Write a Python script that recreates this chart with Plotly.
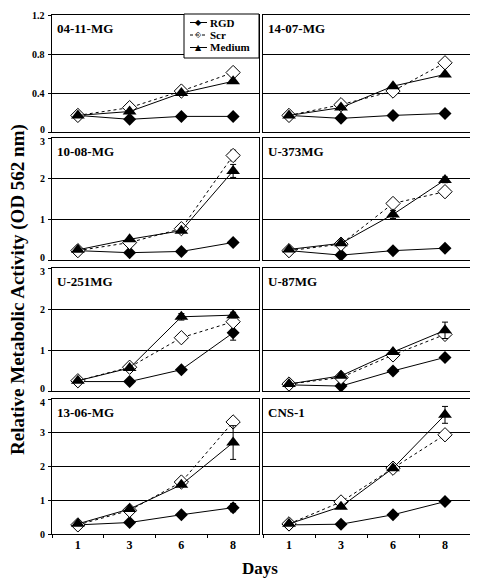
import plotly.graph_objects as go

W, H = 478, 579
OFF = 8  # page body margin offset


def px(x):
    return (x - OFF) / W


def py(y):
    return 1 - (y - OFF) / H


days = ["1", "3", "6", "8"]
panels = ["04-11-MG", "14-07-MG", "10-08-MG", "U-373MG",
          "U-251MG", "U-87MG", "13-06-MG", "CNS-1"]

rgd_04_11 = [0.17, 0.13, 0.16, 0.16]
rgd_14_07 = [0.17, 0.14, 0.17, 0.19]
rgd_10_08 = [0.23, 0.18, 0.21, 0.43]
rgd_u373 = [0.23, 0.12, 0.23, 0.29]
rgd_u251 = [0.23, 0.23, 0.52, 1.42]
rgd_u87 = [0.15, 0.12, 0.49, 0.82]
rgd_13_06 = [0.27, 0.34, 0.57, 0.78]
rgd_cns1 = [0.27, 0.29, 0.57, 0.96]

scr_04_11 = [0.17, 0.25, 0.42, 0.61]
scr_14_07 = [0.17, 0.28, 0.42, 0.71]
scr_10_08 = [0.23, 0.43, 0.77, 2.57]
scr_u373 = [0.23, 0.39, 1.39, 1.68]
scr_u251 = [0.25, 0.58, 1.30, 1.69]
scr_u87 = [0.17, 0.33, 0.88, 1.38]
scr_13_06 = [0.27, 0.70, 1.54, 3.32]
scr_cns1 = [0.30, 0.95, 1.95, 2.94]

med_04_11 = [0.17, 0.21, 0.40, 0.52]
med_14_07 = [0.17, 0.25, 0.47, 0.59]
med_10_08 = [0.25, 0.51, 0.72, 2.19]
med_u373 = [0.26, 0.41, 1.12, 1.97]
med_u251 = [0.25, 0.56, 1.81, 1.85]
med_u87 = [0.17, 0.37, 0.95, 1.48]
med_13_06 = [0.30, 0.74, 1.46, 2.71]
med_cns1 = [0.30, 0.81, 1.95, 3.53]

rgd_err = [[0, 0, 0, 0], [0, 0, 0, 0], [0, 0, 0, 0.04], [0, 0, 0, 0],
           [0, 0, 0, 0.18], [0, 0, 0, 0], [0, 0, 0, 0.12], [0, 0, 0, 0.05]]
scr_err = [[0, 0, 0, 0], [0, 0, 0, 0], [0, 0, 0, 0.13], [0, 0, 0, 0],
           [0, 0, 0, 0.05], [0, 0, 0, 0], [0, 0, 0, 0], [0, 0, 0, 0]]
med_err = [[0, 0, 0, 0], [0, 0, 0, 0], [0, 0, 0, 0.16], [0, 0, 0.1, 0.07],
           [0, 0, 0.08, 0.07], [0, 0, 0, 0.2], [0, 0, 0, 0.5], [0, 0, 0, 0.25]]

rgd = [rgd_04_11, rgd_14_07, rgd_10_08, rgd_u373, rgd_u251, rgd_u87, rgd_13_06, rgd_cns1]
scr = [scr_04_11, scr_14_07, scr_10_08, scr_u373, scr_u251, scr_u87, scr_13_06, scr_cns1]
med = [med_04_11, med_14_07, med_10_08, med_u373, med_u251, med_u87, med_13_06, med_cns1]

row_ymax = [1.2, 3, 3, 4]
row_tickvals = [[0, 0.4, 0.8, 1.2], [0, 1, 2, 3], [0, 1, 2, 3], [0, 1, 2, 3, 4]]
row_ticktext = [["0", "0.4", "0.8", "1.2"], ["0", "1", "2", "3"], ["0", "1", "2", "3"], ["0", "1", "2", "3", "4"]]

series_names = ["RGD", "Scr", "Medium"]
legend_glyphs = ["\u25c6", "\u25c7", "\u25b2"]

# pixel geometry (page pixels)
col_x = [(52, 259), (263, 471)]
row_y = [(15, 132), (138, 260), (268, 391), (399, 534)]

FONT = "Liberation Serif"
fig = go.Figure()


def styles(k, msize):
    if k == 0:
        return dict(line=dict(color="black", width=1),
                    marker=dict(symbol="diamond", size=msize, color="black"))
    if k == 1:
        return dict(line=dict(color="black", width=1, dash="dot"),
                    marker=dict(symbol="diamond", size=msize + 1, color="white",
                                line=dict(color="black", width=1)))
    return dict(line=dict(color="black", width=1),
                marker=dict(symbol="triangle-up", size=msize + 2, color="black"))


for i, name in enumerate(panels):
    r, c = divmod(i, 2)
    n = i + 1
    xa = "x" if n == 1 else f"x{n}"
    ya = "y" if n == 1 else f"y{n}"
    for k, (vals, errs) in enumerate([(rgd[i], rgd_err[i]), (scr[i], scr_err[i]), (med[i], med_err[i])]):
        fig.add_trace(go.Scatter(
            x=days, y=vals, name=series_names[k], xaxis=xa, yaxis=ya, mode="lines+markers",
            error_y=dict(type="data", array=errs, color="black", thickness=1, width=3),
            showlegend=False, **styles(k, 10)))

    x0, x1 = col_x[c]
    y0, y1 = row_y[r]
    xkey = "xaxis" if n == 1 else f"xaxis{n}"
    ykey = "yaxis" if n == 1 else f"yaxis{n}"
    fig.layout[xkey] = dict(
        domain=[px(x0), px(x1)], anchor=ya, type="category",
        categoryorder="array", categoryarray=days, range=[-0.5, 3.5],
        showgrid=False, showline=True, linecolor="black", linewidth=1, mirror=True,
        ticks="outside" if r == 3 else "", tickson="boundaries", ticklen=3, tickcolor="black",
        showticklabels=(r == 3), zeroline=False,
        tickfont=dict(family=FONT, size=12, color="black", weight="bold"))
    fig.layout[ykey] = dict(
        domain=[py(y1), py(y0)], anchor=xa, range=[0, row_ymax[r]],
        tickvals=row_tickvals[r],
        showgrid=True, gridcolor="black", gridwidth=1,
        showline=True, linecolor="black", linewidth=1, mirror=True,
        ticks="outside" if c == 0 else "", ticklen=3, tickcolor="black",
        showticklabels=False, zeroline=False)
    if c == 0:
        nt = len(row_tickvals[r])
        for j, (tv, tt) in enumerate(zip(row_tickvals[r], row_ticktext[r])):
            shift = 0
            if j == 0 and r < 3:
                shift = 3
            elif j == nt - 1 and r > 0:
                shift = -3
            fig.add_annotation(x=px(47), xref="paper", y=tv, yref=ya, text=tt,
                               showarrow=False, xanchor="right", yanchor="middle",
                               yshift=shift,
                               font=dict(family=FONT, size=10, color="black", weight="bold"))
    fig.add_annotation(x=px(x0 + 3), y=py(y0 + 4), xref="paper", yref="paper",
                       text=f"<b>{name}</b>", showarrow=False, xanchor="left", yanchor="top",
                       font=dict(family=FONT, size=13, color="black"))

# legend box (drawn as layout decoration, top-left panel)
fig.add_shape(type="rect", xref="paper", yref="paper",
              x0=px(184), x1=px(259), y0=py(58), y1=py(14),
              line=dict(color="black", width=1), fillcolor="white", layer="above")
leg_y = [22.5, 35, 47.5]
for k in range(3):
    fig.add_shape(type="line", xref="paper", yref="paper",
                  x0=px(190), x1=px(207), y0=py(leg_y[k]), y1=py(leg_y[k]),
                  line=dict(color="black", width=1, dash="dot" if k == 1 else "solid"),
                  layer="above")
    fig.add_annotation(x=px(198.5), y=py(leg_y[k]), xref="paper", yref="paper",
                       text=legend_glyphs[k], showarrow=False, xanchor="center", yanchor="middle",
                       font=dict(family="DejaVu Sans", size=8, color="black"))
    fig.add_annotation(x=px(208), y=py(leg_y[k]), xref="paper", yref="paper",
                       text=f"<b>{series_names[k]}</b>", showarrow=False,
                       xanchor="left", yanchor="middle",
                       font=dict(family=FONT, size=11, color="black"))

fig.add_annotation(x=px(260), y=py(568), xref="paper", yref="paper",
                   text="<b>Days</b>", showarrow=False, xanchor="center", yanchor="middle",
                   font=dict(family=FONT, size=17, color="black"))
fig.add_annotation(x=px(18), y=py(290), xref="paper", yref="paper",
                   text="<b>Relative Metabolic Activity (OD 562 nm)</b>", showarrow=False,
                   textangle=-90, xanchor="center", yanchor="middle",
                   font=dict(family=FONT, size=19, color="black"))

fig.update_layout(
    width=W, height=H, margin=dict(l=0, r=0, t=0, b=0),
    paper_bgcolor="white", plot_bgcolor="white", showlegend=False,
)

fig.write_html("out.html")
